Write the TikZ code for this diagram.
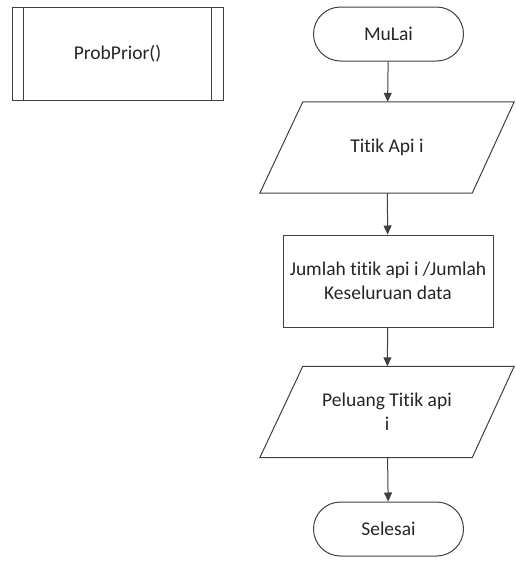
\documentclass[tikz,border=0pt]{standalone}
\usepackage{fontspec}
\setmainfont{Carlito}[Ligatures=NoCommon]
\usetikzlibrary{arrows.meta,shapes.misc}
\begin{document}
\begin{tikzpicture}[x=1pt,y=-1pt,
  every node/.style={font=\fontsize{19.5}{24}\selectfont, text=black!85, inner sep=0pt},
  lin/.style={draw=black!75, line width=1pt},
  term/.style={lin, rounded rectangle, minimum width=150pt, minimum height=54pt},
  io/.style={rectangle, minimum width=254pt, minimum height=91pt, align=center},
  proc/.style={lin, rectangle, minimum width=210pt, minimum height=92pt, align=center},
  arr/.style={lin, -{Triangle[length=9pt,width=8pt]}}
]
\useasboundingbox (0,0) rectangle (515,563);
\fill[white] (0,0) rectangle (515,563);
% predefined process
\node[lin, rectangle, minimum width=211pt, minimum height=93pt] (pp) at (117.5,53.5) {ProbPrior()};
\draw[lin] ([xshift=12pt]pp.north west) -- ([xshift=12pt]pp.south west);
\draw[lin] ([xshift=-12pt]pp.north east) -- ([xshift=-12pt]pp.south east);
% main flow
\node[term] (start) at (388.5,34) {MuLai};
\node[io] (in) at (387,147.5) {Titik Api i};
\draw[lin] ([xshift=43pt]in.north west) -- (in.north east) -- ([xshift=-42pt]in.south east) -- (in.south west) -- cycle;
\node[proc] (calc) at (388,281) {Jumlah titik api i /Jumlah\\Keseluruan data};
\node[io] (out) at (387,412) {Peluang Titik api\\i};
\draw[lin] ([xshift=43pt]out.north west) -- (out.north east) -- ([xshift=-42pt]out.south east) -- (out.south west) -- cycle;
\node[term] (end) at (388.5,529) {Selesai};
\draw[arr] (start) -- (in);
\draw[arr] (in) -- (calc);
\draw[arr] (calc) -- (out);
\draw[arr] (out) -- (end);
\end{tikzpicture}
\end{document}
